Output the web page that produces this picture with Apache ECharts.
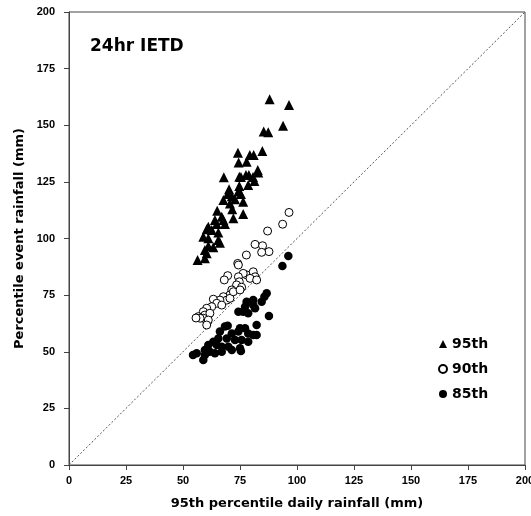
<!DOCTYPE html>
<html>
<head>
<meta charset="utf-8">
<script src="https://cdn.jsdelivr.net/npm/echarts@6/dist/echarts.min.js"></script>
<style>
  html, body { margin: 0; padding: 0; background: #fff; }
  #chart { width: 531px; height: 516px; }
</style>
</head>
<body>
<div id="chart"></div>
<script>
// 95th percentile daily rainfall (x) vs percentile event rainfall (y), mm
const p95 = [
  [88.0, 161.5], [96.5, 158.9], [93.9, 149.8], [85.4, 147.2], [87.4, 146.9],
  [84.8, 138.6], [74.1, 137.9], [79.3, 136.9], [81.0, 136.9], [74.4, 133.6],
  [77.9, 133.9], [82.8, 130.2], [77.6, 128.0], [78.9, 128.0], [75.4, 127.2],
  [80.7, 127.2], [67.9, 127.0], [74.7, 127.3], [83.0, 129.1], [81.3, 125.4],
  [78.6, 123.6], [74.7, 123.2], [70.2, 121.7], [74.3, 120.7], [69.6, 119.6],
  [71.4, 118.7], [75.4, 119.6], [67.7, 117.0], [72.8, 117.3], [76.4, 116.2],
  [70.6, 115.5], [65.0, 112.3], [71.6, 112.9], [76.4, 110.8], [72.1, 108.9],
  [67.0, 109.6], [67.7, 108.2], [64.0, 108.2], [68.4, 106.4], [64.8, 106.4],
  [61.1, 105.2], [65.5, 102.6], [60.4, 104.1], [62.6, 103.8], [65.5, 99.3],
  [61.1, 100.1], [58.9, 100.8], [66.2, 98.1], [61.1, 96.7], [63.3, 96.1],
  [59.6, 94.9], [56.4, 90.5], [59.6, 91.3], [60.4, 93.5]
];
const p90 = [
  [96.5, 111.5], [93.7, 106.3], [87.1, 103.3], [81.6, 97.4], [84.9, 96.8],
  [87.7, 94.2], [84.5, 93.9], [77.8, 92.7], [74.0, 89.0], [74.3, 88.3],
  [77.9, 83.9], [80.8, 85.3], [81.6, 83.1], [79.4, 82.4], [76.4, 84.6],
  [74.3, 83.1], [82.3, 81.7], [69.6, 83.6], [68.1, 81.7], [74.7, 80.9],
  [73.5, 79.5], [75.7, 78.5], [71.4, 77.3], [70.6, 75.1], [67.7, 74.3],
  [69.2, 72.8], [66.2, 72.8], [63.3, 73.2], [64.8, 71.4], [67.0, 70.6],
  [62.6, 69.9], [60.4, 69.2], [58.9, 67.7], [56.7, 65.5], [59.6, 66.2],
  [61.8, 67.0], [58.9, 64.8], [61.1, 64.0], [60.4, 61.8], [57.5, 64.8],
  [70.6, 73.6], [72.1, 76.5], [75.0, 77.3], [55.7, 64.9]
];
const p85 = [
  [96.2, 92.3], [93.6, 87.9], [86.7, 75.8], [85.7, 74.3], [84.5, 72.1],
  [80.8, 72.8], [77.9, 72.1], [77.2, 69.9], [74.3, 67.7], [76.4, 67.7],
  [78.6, 67.0], [81.6, 69.2], [80.8, 70.6], [87.7, 65.8], [82.3, 61.8],
  [68.4, 61.1], [69.6, 61.5], [66.2, 58.9], [71.4, 58.1], [74.3, 58.9],
  [75.0, 60.4], [77.2, 60.4], [78.6, 58.1], [80.8, 57.4], [82.3, 57.4],
  [75.7, 55.2], [78.6, 54.4], [72.8, 55.2], [69.2, 55.9], [65.5, 55.9],
  [63.3, 54.4], [61.1, 53.0], [64.8, 53.0], [67.0, 52.2], [69.9, 52.2],
  [59.6, 50.8], [61.8, 50.0], [64.0, 49.3], [67.0, 50.0], [71.4, 50.8],
  [75.0, 51.5], [59.6, 48.6], [56.0, 49.3], [58.9, 46.4], [54.4, 48.6],
  [75.4, 50.3]
];
const oneToOne = [[0, 0], [200, 200]];
const axisTicks = [0, 25, 50, 75, 100, 125, 150, 175, 200];

const tickFont = '"Liberation Sans", Arial, sans-serif';
const textFont = '"DejaVu Sans", sans-serif';
const chart = echarts.init(document.getElementById('chart'));

const axisCommon = {
  min: axisTicks[0],
  max: axisTicks[axisTicks.length - 1],
  interval: 25,
  splitLine: { show: false },
  axisLine: { show: true, onZero: false, lineStyle: { color: '#444', width: 1 } },
  axisTick: { show: true, length: 5, lineStyle: { color: '#444' } },
  axisLabel: { color: '#000', fontWeight: 'bold', fontSize: 11, fontFamily: tickFont },
  nameLocation: 'middle',
  nameTextStyle: { color: '#000', fontWeight: 'bold', fontSize: 13, fontFamily: textFont }
};

chart.setOption({
  animation: false,
  backgroundColor: '#fff',
  grid: {
    left: 69, right: 6, top: 12, bottom: 51,
    outerBoundsMode: 'none',
    containLabel: false,
    show: true, borderColor: '#444', borderWidth: 1
  },
  title: {
    text: '24hr IETD',
    left: 85, top: 33,
    textStyle: { fontSize: 17, fontWeight: 'bold', color: '#000', fontFamily: textFont }
  },
  legend: {
    orient: 'vertical',
    left: 433, top: 332,
    itemWidth: 8, itemHeight: 8, itemGap: 11,
    textStyle: { fontSize: 14, fontWeight: 'bold', color: '#000', fontFamily: textFont },
    data: ['95th', '90th', '85th']
  },
  xAxis: Object.assign({}, axisCommon, {
    type: 'value',
    name: '95th percentile daily rainfall (mm)',
    nameGap: 32,
    axisLabel: Object.assign({}, axisCommon.axisLabel, { margin: 10 })
  }),
  yAxis: Object.assign({}, axisCommon, {
    type: 'value',
    name: 'Percentile event rainfall (mm)',
    nameGap: 43,
    axisLabel: Object.assign({}, axisCommon.axisLabel, { margin: 14 })
  }),
  series: [
    {
      type: 'line',
      data: oneToOne,
      symbol: 'none',
      silent: true,
      lineStyle: { color: '#555', width: 1, type: [2, 2] },
      z: 1
    },
    {
      name: '95th', type: 'scatter', data: p95,
      symbol: 'triangle', symbolSize: 10,
      itemStyle: { color: '#000', opacity: 1 }
    },
    {
      name: '90th', type: 'scatter', data: p90,
      symbol: 'circle', symbolSize: 8,
      itemStyle: { color: '#fff', borderColor: '#000', borderWidth: 1, opacity: 1 }
    },
    {
      name: '85th', type: 'scatter', data: p85,
      symbol: 'circle', symbolSize: 8.5,
      itemStyle: { color: '#000', opacity: 1 }
    }
  ]
});
</script>
</body>
</html>
